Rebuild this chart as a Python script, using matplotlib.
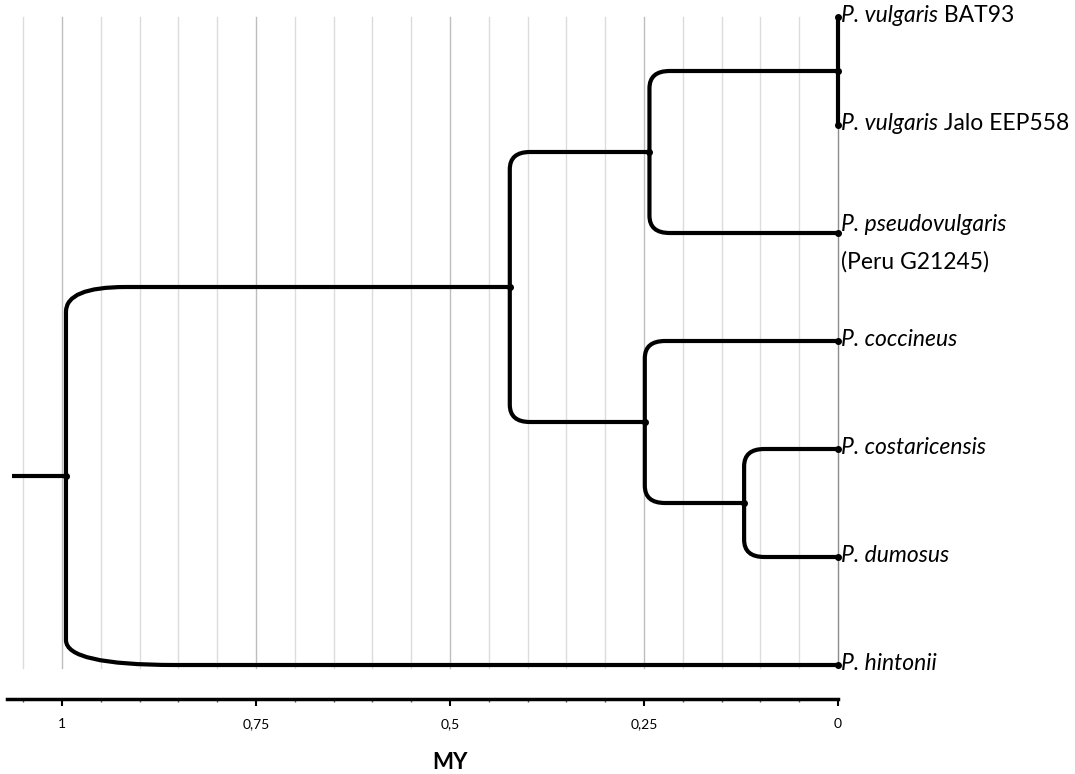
import matplotlib
matplotlib.use("Agg")
import matplotlib.pyplot as plt
from matplotlib.path import Path
from matplotlib.patches import PathPatch
from matplotlib.ticker import FixedLocator, FuncFormatter
import numpy as np

plt.rcParams["font.family"] = ["Lato", "DejaVu Sans"]

# tips, top to bottom (all living, age 0)
tip_italic = ["P. vulgaris", "P. vulgaris", "P. pseudovulgaris", "P. coccineus",
              "P. costaricensis", "P. dumosus", "P. hintonii"]
tip_suffix = ["BAT93", "Jalo EEP558", "", "", "", "", ""]
tip_second_line = ["", "", "(Peru G21245)", "", "", "", ""]
tip_ages = [0, 0, 0, 0, 0, 0, 0]

# internal nodes (ages in MY); children refer to tips (int) or nodes (str)
node_names = ["vulg", "A", "D", "C", "B", "root"]
node_ages = [0.0, 0.243, 0.121, 0.249, 0.423, 0.995]
node_children = [[0, 1], ["vulg", 2], [4, 5], [3, "D"], ["A", "C"], ["B", 6]]
root_stem_age = 1.065

major_ticks = [1, 0.75, 0.5, 0.25, 0]
grid_ticks = [round(0.05 * i, 2) for i in range(22)]

W, H = 1075, 774
fig = plt.figure(figsize=(W / 100, H / 100), dpi=100)
ax_left, ax_right, ax_top, ax_bot = 7, 838, 5, 699
ax = fig.add_axes([ax_left / W, 1 - ax_bot / H, (ax_right - ax_left) / W, (ax_bot - ax_top) / H])
ax.set_xlim(1.071, 0)
tip_step = 108.0
ax.set_ylim((ax_bot - 17) / tip_step, (ax_top - 17) / tip_step)

# y positions
ypos = {i: float(i) for i in range(len(tip_ages))}
xpos = {i: tip_ages[i] for i in range(len(tip_ages))}
for name, age, kids in zip(node_names, node_ages, node_children):
    ypos[name] = np.mean([ypos[k] for k in kids])
    xpos[name] = age

# gridlines
for g in grid_ticks:
    if g == 0:
        col = "#8c8c8c"
    elif g in major_ticks:
        col = "#bdbdbd"
    else:
        col = "#dcdcdc"
    ax.plot([g, g], [0.0, 6.03], color=col, lw=1, zorder=1, clip_on=False)

lw = 3.0
default_r = (0.026, 0.16)
corner_r = {("root", "B"): (0.077, 0.23), ("root", 6): (0.14, 0.23)}


def branch(parent, child):
    x0, y0 = xpos[parent], ypos[parent]
    x1, y1 = xpos[child], ypos[child]
    rx, ry = corner_r.get((parent, child), default_r)
    rx = min(rx, x0 - x1)
    s = 1 if y1 > y0 else -1
    verts = [(x0, y0), (x0, y1 - s * ry), (x0, y1), (x0 - rx, y1), (x1, y1)]
    codes = [Path.MOVETO, Path.LINETO, Path.CURVE3, Path.CURVE3, Path.LINETO]
    ax.add_patch(PathPatch(Path(verts, codes), fill=False, lw=lw, color="black",
                           capstyle="butt", zorder=3, clip_on=False))


for name, kids in zip(node_names, node_children):
    for k in kids:
        branch(name, k)

ax.plot([root_stem_age, xpos["root"]], [ypos["root"]] * 2, color="black", lw=lw,
        solid_capstyle="butt", zorder=3)

# dots
dot_x = [xpos[n] for n in node_names] + list(tip_ages)
dot_y = [ypos[n] for n in node_names] + [ypos[i] for i in range(len(tip_ages))]
ax.plot(dot_x, dot_y, "o", color="black", ms=4, zorder=4, clip_on=False)

# tip labels: italic species name followed by upright strain name
fs = 16.5
for i in range(len(tip_ages)):
    dy = -0.08 if tip_second_line[i] else -0.01
    t = ax.text(-0.004, ypos[i] + dy, tip_italic[i], fontsize=fs, style="italic",
                ha="left", va="center")
    if tip_suffix[i]:
        ax.annotate(" " + tip_suffix[i], xy=(1, 0), xycoords=t, fontsize=fs,
                    ha="left", va="bottom")
    if tip_second_line[i]:
        ax.text(-0.004, ypos[i] + 0.27, tip_second_line[i], fontsize=fs,
                ha="left", va="center")

for side in ["left", "right", "top"]:
    ax.spines[side].set_visible(False)
ax.spines["bottom"].set_linewidth(2.5)
ax.set_yticks([])
ax.xaxis.set_major_locator(FixedLocator(major_ticks))
ax.xaxis.set_minor_locator(FixedLocator([g for g in grid_ticks if g not in major_ticks]))
ax.xaxis.set_major_formatter(FuncFormatter(lambda v, p: f"{v:g}".replace(".", ",")))
ax.tick_params(axis="x", which="major", length=5, width=1.5, pad=9, labelsize=10)
ax.tick_params(axis="x", which="minor", length=2.5, width=1, color="#555555")

ax.text(0.5, -0.092, "MY", transform=ax.get_xaxis_transform(), ha="center", va="center",
        fontsize=16, fontweight="bold")

fig.savefig("out.png", dpi=100)
